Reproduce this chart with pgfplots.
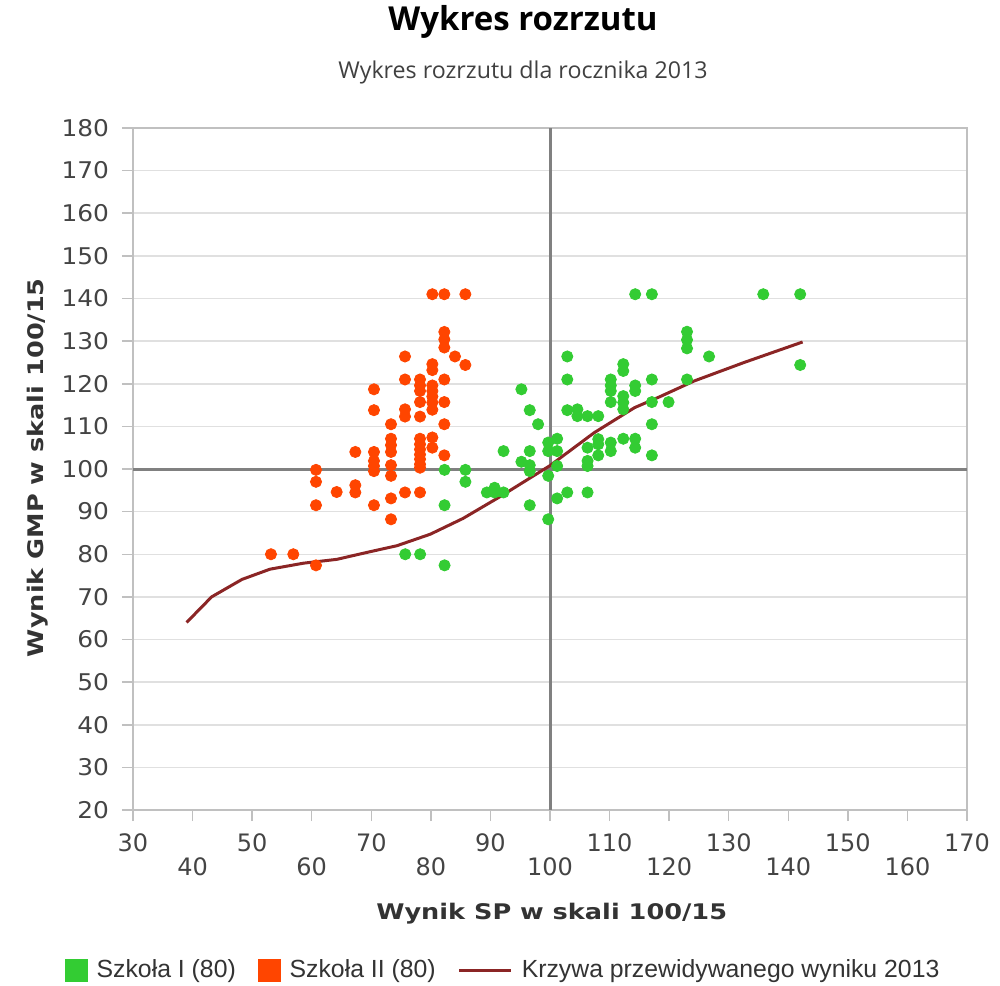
\documentclass[border=0pt]{standalone}
\usepackage{pgfplots}
\pgfplotsset{compat=1.18}
\usepackage{fontspec}
\setmainfont{DejaVu Sans}
\newfontfamily\tickfont{DejaVu Sans}
\newfontfamily\ytickfont[FakeStretch=1.08]{DejaVu Sans}
\newfontfamily\labfont[FakeStretch=1.19]{DejaVu Sans}
\newfontfamily\titfont{Open Sans}
\newfontfamily\legfont{Liberation Sans}
\definecolor{gI}{HTML}{33CC33}
\definecolor{oII}{HTML}{FF4500}
\definecolor{cCurve}{HTML}{8B2525}
\definecolor{gridc}{HTML}{E0E0E0}
\definecolor{axc}{HTML}{C0C0C0}
\definecolor{refl}{HTML}{808080}
\definecolor{tickc}{HTML}{444444}
\begin{document}
\begin{tikzpicture}
\path[use as bounding box] (-66.5pt,-87.5pt) rectangle (433.5pt,405pt);
\begin{axis}[
  scale only axis, width=417pt, height=341pt,
  xmin=30, xmax=170, ymin=20, ymax=180,
  xtick={30,50,...,170}, ytick={20,30,...,180},
  extra x ticks={40,60,...,160},
  extra x tick style={grid=none, xticklabel style={yshift=-12pt}},
  ymajorgrids, major grid style={gridc, line width=0.75pt},
  axis line style={axc, line width=0.75pt},
  tick style={axc, line width=0.75pt},
  tick align=outside, major tick length=5.5pt, tick pos=left,
  /pgf/number format/assume math mode=true,
  xticklabel style={font=\tickfont\fontsize{12}{14}\selectfont, text=tickc, yshift=-3pt},
  yticklabel style={font=\ytickfont\fontsize{11.5}{13}\selectfont, text=tickc, xshift=-3pt},
  xlabel={Wynik SP w skali 100/15},
  xlabel style={at={(axis description cs:0.502,-0.152)}, anchor=center, font=\labfont\bfseries\fontsize{10.75}{13}\selectfont, text=black!80},
  ylabel={Wynik GMP w skali 100/15},
  ylabel style={at={(axis description cs:-0.114,0.502)}, anchor=center, font=\labfont\bfseries\fontsize{10.75}{13}\selectfont, text=black!80},
  legend columns=3,
  legend style={draw=none, at={(0.445,-0.2346)}, anchor=center, font=\legfont\fontsize{12.4}{14}\selectfont, text=black!80,
    /tikz/every odd column/.append style={column sep=2.5pt},
    /tikz/every even column/.append style={column sep=9pt}},
  legend cell align=left,
]
\addplot[refl, line width=1.5pt, forget plot] coordinates {(100,20) (100,180)};
\addplot[refl, line width=1.5pt, forget plot] coordinates {(30,100) (170,100)};
\addplot[only marks, mark=*, mark size=2.8pt, color=gI,
  legend image code/.code={\fill[gI] (0pt,-5.5pt) rectangle (11pt,5.5pt);}]
 coordinates {
(82.3,99.8) (85.8,99.8) (85.8,97.0) (82.3,91.5) (75.7,80.0) (78.2,80.0) (82.3,77.4)
(114.3,141) (117.1,141) (135.8,141) (142.0,141) (142.0,124.4)
(123.0,132.2) (123.0,130.3) (123.0,128.3) (126.7,126.4) (123.0,121.0)
(102.9,126.4) (102.9,121.0) (95.2,118.7) (96.6,113.8) (98.0,110.5) (102.9,113.8)
(104.6,114.0) (104.6,112.4) (106.3,112.4) (108.1,112.4)
(112.3,124.6) (112.3,123.0) (110.2,121.0) (110.2,119.6) (110.2,118.3) (110.2,115.7)
(112.3,117.1) (112.3,115.6) (112.3,114.0) (114.3,119.6) (114.3,118.3)
(117.1,121.0) (117.1,115.7) (119.9,115.7) (117.1,110.5)
(112.3,107.1) (114.3,107.1) (114.3,105.0) (117.1,103.2)
(110.2,106.2) (110.2,104.2) (108.1,107.0) (108.1,105.8) (108.1,103.2)
(106.3,105.0) (106.3,101.9) (106.3,100.7) (106.3,94.5)
(101.2,107.1) (99.7,106.2) (99.7,104.2) (101.2,104.2) (101.2,100.7) (99.7,98.4)
(101.2,93.1) (102.9,94.5) (99.7,88.2) (96.6,91.5) (96.6,104.2) (95.2,101.7)
(96.6,100.9) (96.6,99.5) (92.2,104.2) (89.4,94.5) (90.7,95.6) (90.7,94.5) (92.2,94.5)
};
\addlegendentry{Szkoła I (80)}
\addplot[only marks, mark=*, mark size=2.8pt, color=oII,
  legend image code/.code={\fill[oII] (0pt,-5.5pt) rectangle (11pt,5.5pt);}]
 coordinates {
(80.25,141) (82.26,141) (85.79,141) (82.26,132.15) (82.26,130.4) (82.26,128.5)
(84.05,126.4) (85.79,124.4) (75.66,126.4) (80.25,124.6) (80.25,123.2)
(75.66,121.0) (78.18,121.0) (82.26,121.0) (78.18,119.6) (78.18,118.3)
(80.25,119.6) (80.25,118.3) (80.25,117.0) (80.25,115.6) (80.25,113.9)
(78.18,115.7) (82.26,115.7) (70.45,118.7) (70.45,113.8) (75.66,114.0)
(75.66,112.3) (78.18,112.3) (73.31,110.5) (82.26,110.5) (73.31,107.1)
(73.31,105.6) (73.31,104.0) (67.32,104.0) (70.45,104.0) (70.45,101.9)
(70.45,100.7) (70.45,99.5) (73.31,100.9) (73.31,98.4) (78.18,107.1)
(78.18,105.8) (78.18,104.6) (78.18,103.4) (78.18,102.3) (78.18,101.1)
(78.18,100.3) (80.25,107.4) (80.25,105.0) (82.26,103.2) (60.72,99.8)
(60.72,97.0) (60.72,91.5) (64.19,94.6) (67.32,96.2) (67.32,94.5)
(70.45,91.5) (73.31,93.1) (73.31,88.2) (75.66,94.5) (78.18,94.5)
(53.16,80.0) (56.91,80.0) (60.72,77.4)
};
\addlegendentry{Szkoła II (80)}
\addplot[cCurve, line width=1.5pt, mark=none,
  legend image code/.code={\draw[cCurve, line width=1.5pt] (0pt,0pt) -- (26pt,0pt);}]
 coordinates {
(39.0,64.0) (43.2,70.0) (48.3,74.1) (53.0,76.5) (58.6,77.9) (64.2,78.8) (69.8,80.6)
(74.3,82.0) (79.9,84.7) (85.4,88.4) (91.6,93.5) (100.0,100.8) (107.4,108.5)
(114.2,114.4) (118.5,117.0) (124.2,120.65) (132.6,125.0) (142.4,129.8)
};
\addlegendentry{Krzywa przewidywanego wyniku 2013}
\end{axis}
\node[font=\titfont\bfseries\fontsize{16.5}{19}\selectfont] at (195pt,394pt) {Wykres rozrzutu};
\node[font=\titfont\fontsize{11.6}{14}\selectfont, text=black!75] at (195pt,369pt) {Wykres rozrzutu dla rocznika 2013};
\end{tikzpicture}
\end{document}
